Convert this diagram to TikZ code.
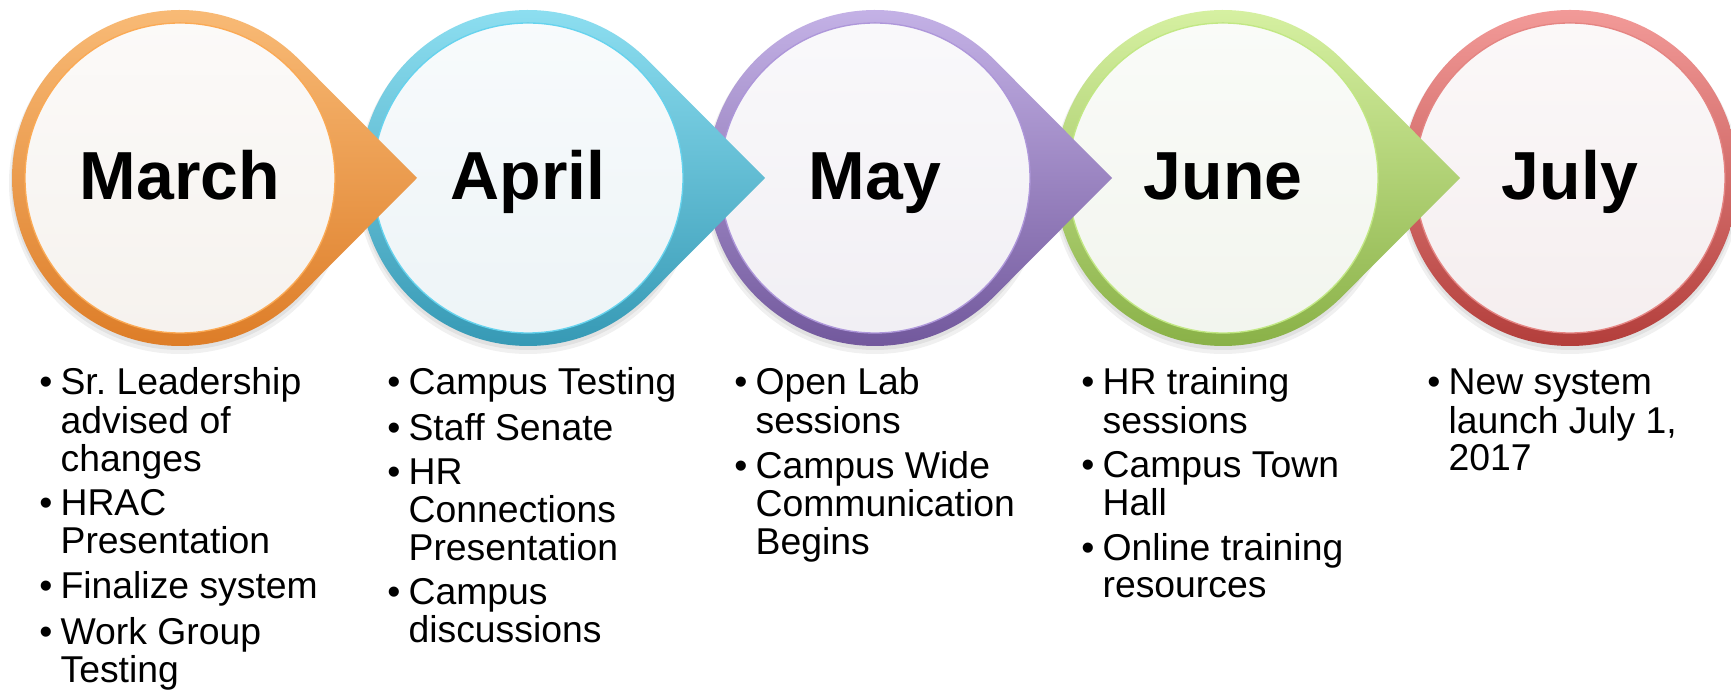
\documentclass[tikz,border=0pt]{standalone}
\usepackage{fontspec}
\setmainfont{Liberation Sans}
\frenchspacing

% ring colours: light (top), middle, dark (bottom), inner disc
\definecolor{marchlt}{HTML}{F9BC78}
\definecolor{marchmd}{HTML}{FBAA55}
\definecolor{marchdk}{HTML}{DC7A24}
\definecolor{marchin}{HTML}{F6F2EE}
\definecolor{aprillt}{HTML}{8FE0F2}
\definecolor{aprilmd}{HTML}{66D3EE}
\definecolor{aprildk}{HTML}{3296B2}
\definecolor{aprilin}{HTML}{EDF4F7}
\definecolor{maylt}{HTML}{C6B4E8}
\definecolor{maymd}{HTML}{AE97DA}
\definecolor{maydk}{HTML}{6E5499}
\definecolor{mayin}{HTML}{F1EFF4}
\definecolor{junelt}{HTML}{D8F2A4}
\definecolor{junemd}{HTML}{C2E884}
\definecolor{junedk}{HTML}{86AE43}
\definecolor{junein}{HTML}{F2F5EE}
\definecolor{julylt}{HTML}{F29A98}
\definecolor{julymd}{HTML}{E58583}
\definecolor{julydk}{HTML}{B33E3B}
\definecolor{julyin}{HTML}{F5EEEF}

\tikzset{
  monthlabel/.style={font=\fontsize{51}{51}\selectfont\bfseries, inner sep=0pt, anchor=base},
  notes/.style={font=\fontsize{28}{27.5}\selectfont, inner sep=0pt, anchor=base west},
}

\newcommand{\bul}{\textbullet}

\begin{document}
\begin{tikzpicture}[x=0.75pt, y=0.75pt]
\fill[white] (0,0) rectangle (1731,691);
\useasboundingbox (0,0) rectangle (1731,691);

% circles from right to left, so each pointer lies over the next circle
\foreach \cx/\tp/\m/\lbl in {1570/168/july/July, 1223/237/june/June,
    875/237/may/May, 528/237/april/April, 180/237/march/March} {
  \pgfmathsetmacro\ang{acos(168/\tp)}
  \begin{scope}[shift={(\cx,513)}]
    \fill[black, opacity=0.06] (0,-5) circle (171);
    \fill[black, opacity=0.06] (0,-3) circle (169);
    \path[top color=\m lt, middle color=\m md, bottom color=\m dk]
      (\ang:168) -- (\tp,0) -- (-\ang:168)
      arc[start angle=-\ang, end angle=\ang-360, radius=168] -- cycle;
    \fill[top color=\m in!40!white, bottom color=\m in] (0,0) circle (155);
    \draw[\m md, line width=1pt] (0,0) circle (155);
  \end{scope}
  \node[monthlabel] (\m) at (\cx,491) {\lbl};
}

\node[notes] (march-notes) at (39,296) {\begin{tabular}[t]{@{}p{16pt}@{}l@{}}
  \bul & Sr. Leadership\\ & advised of\\ & changes\\[5.5pt]
  \bul & HRAC\\ & Presentation\\[5.5pt]
  \bul & Finalize system\\[5.5pt]
  \bul & Work Group\\ & Testing
\end{tabular}};

\node[notes] (april-notes) at (387,296) {\begin{tabular}[t]{@{}p{16pt}@{}l@{}}
  \bul & Campus Testing\\[5.5pt]
  \bul & Staff Senate\\[5.5pt]
  \bul & HR\\ & Connections\\ & Presentation\\[5.5pt]
  \bul & Campus\\ & discussions
\end{tabular}};

\node[notes] (may-notes) at (734,296) {\begin{tabular}[t]{@{}p{16pt}@{}l@{}}
  \bul & Open Lab\\ & sessions\\[5.5pt]
  \bul & Campus Wide\\ & Communication\\ & Begins
\end{tabular}};

\node[notes] (june-notes) at (1081,296) {\begin{tabular}[t]{@{}p{16pt}@{}l@{}}
  \bul & HR training\\ & sessions\\[5.5pt]
  \bul & Campus Town\\ & Hall\\[5.5pt]
  \bul & Online training\\ & resources
\end{tabular}};

\node[notes] (july-notes) at (1427,296) {\begin{tabular}[t]{@{}p{16pt}@{}l@{}}
  \bul & New system\\ & launch July 1,\\ & 2017
\end{tabular}};
\end{tikzpicture}
\end{document}
